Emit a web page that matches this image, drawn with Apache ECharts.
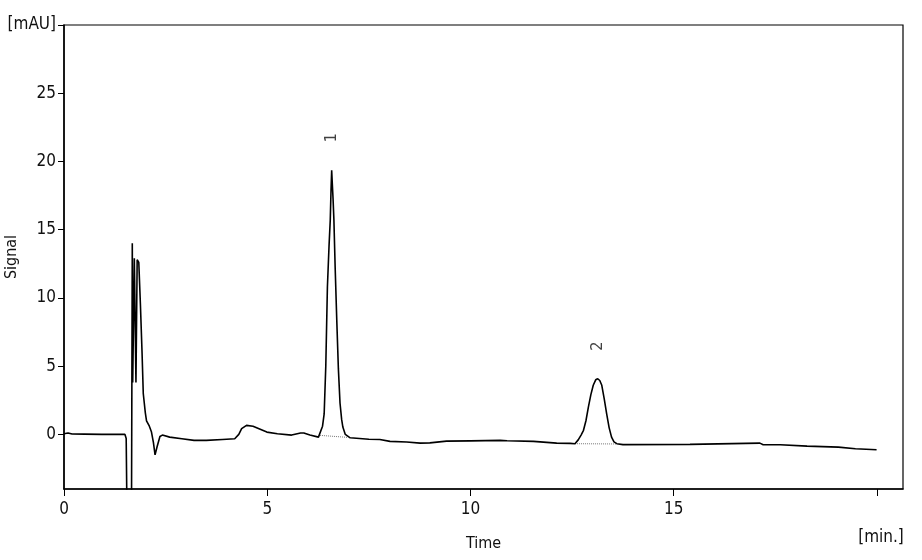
<!DOCTYPE html>
<html>
<head>
<meta charset="utf-8">
<script src="https://cdn.jsdelivr.net/npm/echarts@6/dist/echarts.min.js"></script>
<style>
html,body{margin:0;padding:0;background:#fff;}
#chart{width:922px;height:560px;}
</style>
</head>
<body>
<div id="chart"></div>
<script>
// Retention time (min)
const times = [0.00,0.10,0.20,0.50,0.93,0.97,1.20,1.50,1.53,1.55,1.66,1.68,1.69,1.73,1.77,1.80,1.84,1.88,1.92,1.95,2.00,2.03,2.10,2.15,2.20,2.24,2.29,2.36,2.42,2.60,2.90,3.20,3.50,3.90,4.20,4.30,4.37,4.49,4.65,4.99,5.25,5.60,5.82,5.90,6.05,6.26,6.30,6.36,6.40,6.44,6.48,6.52,6.55,6.57,6.585,6.60,6.62,6.64,6.67,6.71,6.75,6.79,6.83,6.86,6.92,7.04,7.50,7.77,8.02,8.43,8.76,9.00,9.41,10.00,10.73,10.90,11.55,12.12,12.45,12.57,12.65,12.72,12.78,12.84,12.90,12.96,13.02,13.08,13.13,13.18,13.23,13.29,13.35,13.41,13.47,13.53,13.60,13.75,15.40,15.44,17.12,17.20,17.62,17.65,18.28,18.31,19.05,19.09,19.47,19.50,19.99];
// Signal (mAU)
const signal = [0.05,0.10,0.03,0.02,0.00,0.10,0.00,0.00,-0.30,-6.00,-6.00,14.00,3.80,12.90,3.80,12.80,12.60,9.50,6.00,3.00,1.60,1.00,0.60,0.20,-0.60,-1.50,-0.90,-0.15,-0.05,-0.20,-0.32,-0.44,-0.44,-0.37,-0.32,0.00,0.42,0.66,0.60,0.17,0.05,-0.05,0.10,0.10,-0.05,-0.20,-0.10,0.60,1.50,5.00,10.80,13.80,15.70,18.00,19.36,18.40,17.20,15.70,12.30,8.40,4.80,2.30,1.10,0.54,0.00,-0.25,-0.35,-0.37,-0.51,-0.56,-0.64,-0.62,-0.49,-0.47,-0.44,-0.46,-0.51,-0.64,-0.66,-0.68,-0.40,-0.05,0.30,1.00,2.00,2.90,3.60,4.00,4.08,3.95,3.60,2.60,1.50,0.50,-0.20,-0.55,-0.68,-0.75,-0.73,-0.64,-0.64,-0.76,-0.76,-0.86,-0.86,-0.93,-0.93,-1.05,-1.05,-1.12,-1.12];
// Integration baselines (dotted)
const base1Times = [6.30, 6.99];
const base1Values = [-0.07, -0.22];
const base2Times = [12.57, 13.58];
const base2Values = [-0.68, -0.70];
// Peak labels
const peakTimes = [6.585, 13.13];
const peakValues = [19.36, 4.08];
const peakNames = ['1', '2'];
// Axis ticks
const xTicks = [0, 5, 10, 15, 20];
const yTicks = [0, 5, 10, 15, 20, 25, 30];

const font = "'DejaVu Sans Condensed', 'DejaVu Sans', sans-serif";
const zip = (a, b) => a.map((v, i) => [v, b[i]]);

const chart = echarts.init(document.getElementById('chart'), null, {renderer: 'canvas'});
chart.setOption({
  animation: false,
  backgroundColor: '#fff',
  grid: {left: 64, right: 19, top: 25, bottom: 71, outerBoundsMode: 'none', containLabel: false,
         show: true, borderColor: '#000', borderWidth: 1.2, backgroundColor: 'transparent'},
  xAxis: {
    type: 'value', min: 0, max: 20.64,
    name: 'Time', nameLocation: 'middle', nameGap: 47, nameMoveOverlap: false,
    nameTextStyle: {fontFamily: font, fontSize: 16, color: '#111'},
    axisLine: {show: true, onZero: false, lineStyle: {color: '#000', width: 1.5}},
    axisTick: {show: true, length: 7, customValues: xTicks, lineStyle: {color: '#000', width: 1}},
    splitLine: {show: false},
    axisLabel: {
      customValues: xTicks, margin: 12, fontFamily: font, fontSize: 17, color: '#111',
      formatter: v => v === 20 ? '{u|[min.]}' : String(v),
      rich: {u: {fontFamily: font, fontSize: 17, color: '#111', padding: [28, 0, 0, 8]}}
    }
  },
  yAxis: {
    type: 'value', min: -4, max: 30,
    name: 'Signal', nameLocation: 'middle', nameGap: 44, nameRotate: 90, nameMoveOverlap: false,
    nameTextStyle: {fontFamily: font, fontSize: 16, color: '#111'},
    axisLine: {show: true, onZero: false, lineStyle: {color: '#000', width: 1.5}},
    axisTick: {show: true, length: 6, customValues: yTicks, lineStyle: {color: '#000', width: 1}},
    splitLine: {show: false},
    axisLabel: {
      customValues: yTicks, margin: 8, fontFamily: font, fontSize: 17, color: '#111',
      formatter: v => v === 30 ? '[mAU]' : String(v)
    }
  },
  series: [
    {
      type: 'line', data: zip(base1Times, base1Values), symbol: 'none', silent: true,
      lineStyle: {color: '#777', width: 1, type: 'dotted'}
    },
    {
      type: 'line', data: zip(base2Times, base2Values), symbol: 'none', silent: true,
      lineStyle: {color: '#777', width: 1, type: 'dotted'}
    },
    {
      type: 'line', data: zip(times, signal), symbol: 'none', clip: true,
      lineStyle: {color: '#000', width: 1.6}
    },
    {
      type: 'scatter', symbolSize: 2, silent: true,
      itemStyle: {color: 'rgba(0,0,0,0)'},
      labelLayout: {hideOverlap: false},
      data: peakTimes.map((t, i) => ({value: [t, peakValues[i]], name: peakNames[i]})),
      label: {
        show: true, position: 'top', distance: 27, rotate: 90, align: 'left', verticalAlign: 'middle',
        formatter: p => p.name, fontFamily: font, fontSize: 16, color: '#111'
      }
    }
  ]
});
</script>
</body>
</html>
